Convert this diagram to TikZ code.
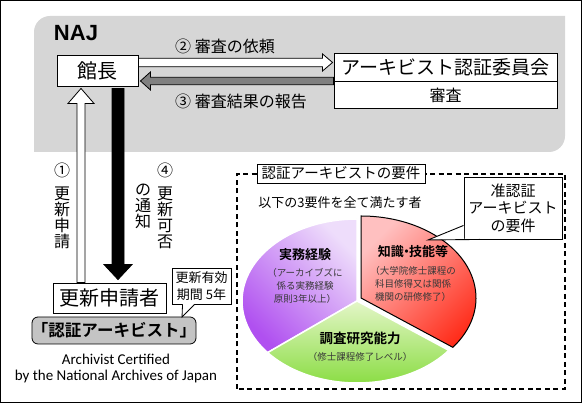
\documentclass[tikz,border=0pt]{standalone}
\usepackage{fontspec}
\setmainfont{Noto Sans CJK JP}[BoldFont={Noto Sans CJK JP Bold}]
\newfontfamily\arialf{Liberation Sans}
\newfontfamily\carl{Carlito}
\usetikzlibrary{calc}
\definecolor{najgray}{HTML}{D6D6D6}
\definecolor{boxgray}{HTML}{C4C4C4}
\definecolor{arrgray}{HTML}{808080}
\definecolor{purL}{HTML}{EEDDFB}
\definecolor{purD}{HTML}{B050F0}
\definecolor{grnL}{HTML}{E4F6C8}
\definecolor{grnD}{HTML}{88DC40}
\definecolor{redL}{HTML}{FFC0C0}
\definecolor{redD}{HTML}{FF2A17}
\definecolor{subtxt}{HTML}{383838}
\begin{document}
\begin{tikzpicture}[x=1pt,y=1pt,
  wbox/.style={draw, fill=white, line width=0.9pt, inner sep=0pt, align=center},
  fatarrow/.style={draw, line width=0.8pt},
  piehead/.style={font=\bfseries\fontsize{13}{15}\selectfont},
  piesub/.style={font=\fontsize{9.5}{13}\selectfont, text=subtxt, align=center},
  vtext/.style={font=\fontsize{16}{16}\selectfont, align=center, inner sep=0pt}]
\useasboundingbox (0,0) rectangle (582,403);
\draw[line width=1pt] (0.5,0.5) rectangle (581.5,402.5);
% NAJ area
\fill[najgray] (34,251) -- (34,371) arc[start angle=180,end angle=90,radius=16] -- (565,387) -- (565,267) arc[start angle=0,end angle=-90,radius=16] -- cycle;
\node[font=\arialf\bfseries\fontsize{22}{26}\selectfont] (naj) at (76,370) {NAJ};
\node[wbox, minimum width=81pt, minimum height=31pt, font=\fontsize{20}{24}\selectfont] (kancho) at (97.5,332.5) {館長};
\node[wbox, minimum width=223pt, minimum height=28pt, font=\fontsize{19}{22}\selectfont] (cmte) at (445.5,336) {アーキビスト認証委員会};
\node[wbox, minimum width=223pt, minimum height=27pt, font=\fontsize{16}{19}\selectfont, anchor=north] (shinsa) at (cmte.south) {審査};
\node[font=\fontsize{16}{19}\selectfont] (lab2) at (225,357) {② 審査の依頼};
\node[font=\fontsize{16}{19}\selectfont] (lab3) at (241,302) {③ 審査結果の報告};
% applicant
\node[wbox, minimum width=113pt, minimum height=30pt, font=\fontsize{20}{24}\selectfont] (shinsei) at (109.5,105) {更新申請者};
\node[draw, fill=boxgray, line width=0.8pt, rounded corners=6pt, minimum width=160pt, minimum height=27pt, inner sep=0pt, font=\bfseries\fontsize{16.5}{19}\selectfont] (ca) at (114,72.5) {「認証アーキビスト」};
\node[font=\carl\fontsize{15}{16}\selectfont, align=center] (en) at (116,34) {Archivist Certified\\by the National Archives of Japan};
% arrows
\path[fatarrow, fill=white] let \p1=(kancho.east), \p2=(cmte.west) in
  (\x1,344.7) -- (\x2-11pt,344.7) -- (\x2-11pt,349) -- (\x2-1pt,340.5) -- (\x2-11pt,332) -- (\x2-11pt,336.3) -- (\x1,336.3) -- cycle;
\path[fatarrow, fill=arrgray] let \p1=(cmte.west), \p2=(kancho.east) in
  (\x1,325.7) -- (\x2+12pt,325.7) -- (\x2+12pt,331) -- (\x2+2pt,322) -- (\x2+12pt,313) -- (\x2+12pt,318.3) -- (\x1,318.3) -- cycle;
\path[fatarrow, fill=white] let \p1=(shinsei.north), \p2=(kancho.south) in
  (77,\y1) -- (77,\y2-17pt) -- (68,\y2-17pt) -- (81,\y2-2pt) -- (94,\y2-17pt) -- (85,\y2-17pt) -- (85,\y1) -- cycle;
\path[fatarrow, fill=black] let \p1=(kancho.south), \p2=(shinsei.north) in
  (112,\y1-2pt) -- (112,\y2+18pt) -- (104,\y2+18pt) -- (118,\y2+3pt) -- (132,\y2+18pt) -- (124,\y2+18pt) -- (124,\y1-2pt) -- cycle;
\node[vtext] (n1) at (62,233) {①};
\node[vtext, anchor=north] (t1) at (62,216) {更\\新\\申\\請};
\node[vtext] (n4) at (165,233) {④};
\node[vtext, anchor=north] (t4) at (165,216) {更\\新\\可\\否};
\node[vtext, anchor=north] (t4b) at (143,219) {の\\通\\知};
% validity callout
\node[wbox, minimum width=59pt, minimum height=36pt, font=\fontsize{13}{17}\selectfont] (valid) at (201.5,117) {更新有効\\期間 5年};
\coordinate (vapex) at (182,86);
\fill[white] let \p1=(valid.south west) in (\x1+11pt,\y1+0.6pt) -- (vapex) -- (\x1+23pt,\y1+0.6pt) -- cycle;
\draw[line width=0.8pt] let \p1=(valid.south west) in (\x1+11pt,\y1) -- (vapex) -- (\x1+23pt,\y1);
% requirements
\draw[dash pattern=on 5pt off 3.5pt, line width=1.3pt] (237,14) rectangle (565,229);
\node[wbox, minimum width=168pt, minimum height=19pt, font=\fontsize{14.5}{17}\selectfont] (req) at (341,229.5) {認証アーキビストの要件};
\node[font=\fontsize{13}{15}\selectfont] (all3) at (340,200) {以下の3要件を全て満たす者};
% pie
\coordinate (pc) at (357,102);
\coordinate (rc) at (361,105);
\shade[top color=purL, bottom color=purD, shading angle=-45] (pc) -- ++(90:115 and 82) arc[start angle=90, end angle=219, x radius=115, y radius=82] -- cycle;
\draw[white, line width=1.5pt] (pc) -- ++(90:115 and 82) arc[start angle=90, end angle=219, x radius=115, y radius=82] -- cycle;
\shade[top color=grnL, bottom color=grnD] (pc) -- ++(219:115 and 82) arc[start angle=219, end angle=323, x radius=115, y radius=82] -- cycle;
\draw[white, line width=1.5pt] (pc) -- ++(219:115 and 82) arc[start angle=219, end angle=323, x radius=115, y radius=82] -- cycle;
\shade[top color=redL, bottom color=redD, shading angle=45] (rc) -- ++(-37:115 and 82) arc[start angle=-37, end angle=90, x radius=115, y radius=82] -- cycle;
\draw[black, line width=1pt] (rc) -- ++(-37:115 and 82) arc[start angle=-37, end angle=90, x radius=115, y radius=82] -- cycle;
\node[piehead] (p1) at (305,148) {実務経験};
\node[piesub] (p1s) at (305,117) {（アーカイブズに\\係る実務経験\\原則3年以上）};
\node[piehead] (p2) at (413,151) {知識\kern-0.3em・\kern-0.3em技能等};
\node[piesub] (p2s) at (413,119) {（大学院修士課程の\\科目修得又は関係\\機関の研修修了）};
\node[piehead, font=\bfseries\fontsize{13.5}{15}\selectfont] (p3) at (360,65) {調査研究能力};
\node[piesub] (p3s) at (360,46) {（修士課程修了レベル）};
% associate callout
\node[wbox, minimum width=98pt, minimum height=62pt, font=\fontsize{15}{17.5}\selectfont] (assoc) at (513,195) {准認証\\アーキビスト\\の要件};
\coordinate (aapex) at (428,163);
\fill[white] let \p1=(assoc.south west) in (\x1+0.6pt,\y1+14pt) -- (aapex) -- (\x1+16pt,\y1+0.6pt) -- (\x1+0.6pt,\y1+0.6pt) -- cycle;
\draw[line width=0.9pt] let \p1=(assoc.south west) in (\x1,\y1+14pt) -- (aapex) -- (\x1+16pt,\y1);
\end{tikzpicture}
\end{document}
